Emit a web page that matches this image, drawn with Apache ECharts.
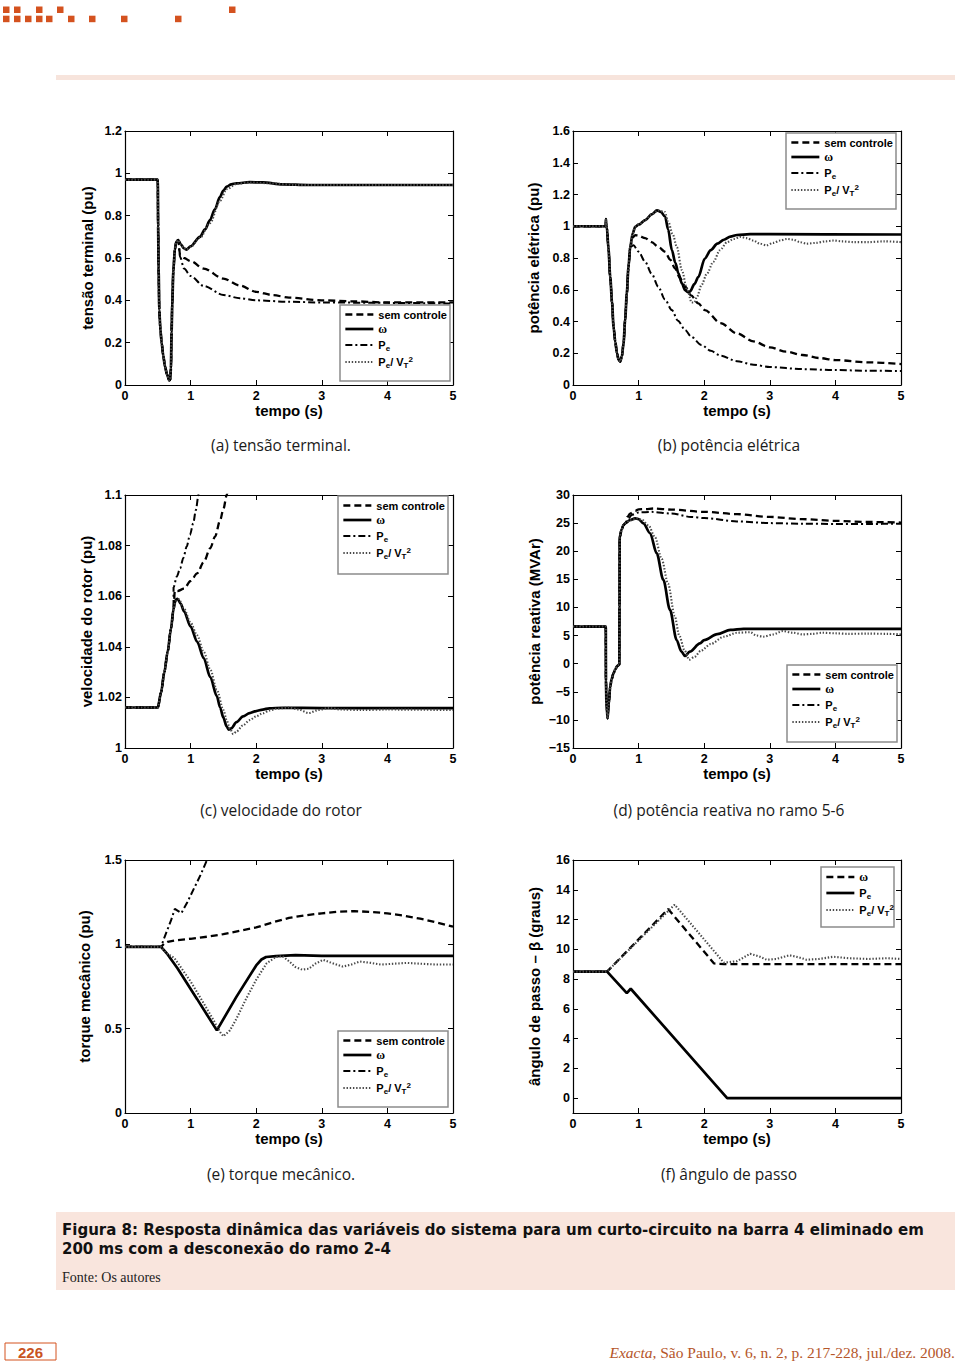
<!DOCTYPE html>
<html><head><meta charset="utf-8">
<script src="https://cdn.jsdelivr.net/npm/echarts@6/dist/echarts.min.js"></script>
<style>html,body{margin:0;padding:0;background:#fff}#c{width:960px;height:1361px}</style>
</head><body><div id="c"></div>
<script>
// ---------- data (t in s, value) ----------
const xTicks = [0,1,2,3,4,5];

// (a) tensão terminal (pu)
const aYTicks = [0,0.2,0.4,0.6,0.8,1,1.2];
const aFault = [[0,0.97],[0.5,0.97],[0.505,0.75],[0.512,0.55],[0.523,0.354],[0.54,0.26],[0.559,0.197],[0.585,0.135],[0.61,0.087],[0.64,0.05],[0.675,0.022],[0.69,0.025],[0.70,0.08],[0.71,0.25],[0.72,0.38],[0.737,0.54],[0.76,0.64],[0.78,0.675],[0.81,0.685]];
const aSem   = [[0.84,0.615],[0.9,0.60],[1.0,0.585],[1.2,0.55],[1.5,0.503],[1.75,0.47],[2.0,0.44],[2.25,0.425],[2.5,0.413],[3.0,0.40],[3.5,0.395],[4,0.39],[5,0.39]];
const aOmega = [[0.85,0.665],[0.9,0.645],[0.94,0.64],[1.0,0.655],[1.143,0.70],[1.22,0.735],[1.296,0.779],[1.37,0.83],[1.448,0.889],[1.5,0.918],[1.55,0.937],[1.62,0.948],[1.7,0.953],[1.9,0.958],[2.1,0.957],[2.4,0.948],[2.8,0.945],[5,0.945]];
const aPe    = [[0.84,0.605],[0.9,0.55],[1.0,0.515],[1.2,0.468],[1.5,0.425],[1.75,0.41],[2.0,0.40],[2.5,0.393],[3,0.39],[4,0.388],[5,0.385]];
const aPeVt  = [[0.85,0.665],[0.9,0.645],[0.94,0.64],[1.0,0.652],[1.143,0.695],[1.296,0.765],[1.448,0.87],[1.55,0.925],[1.7,0.95],[1.9,0.957],[2.2,0.953],[2.6,0.945],[5,0.945]];

// (b) potência elétrica (pu)
const bYTicks = [0,0.2,0.4,0.6,0.8,1,1.2,1.4,1.6];
const bFault = [[0,1.0],[0.5,1.0],[0.502,1.045],[0.508,1.0],[0.517,0.99],[0.54,0.86],[0.568,0.68],[0.595,0.52],[0.618,0.367],[0.645,0.27],[0.67,0.2],[0.695,0.16],[0.72,0.147],[0.745,0.18],[0.77,0.262],[0.795,0.41],[0.82,0.577],[0.845,0.74],[0.872,0.87]];
const bSem   = [[0.91,0.93],[0.948,0.944],[1.0,0.94],[1.1,0.925],[1.2,0.90],[1.3,0.87],[1.405,0.839],[1.48,0.79],[1.557,0.734],[1.63,0.675],[1.71,0.619],[1.8,0.565],[1.91,0.514],[2.01,0.472],[2.25,0.39],[2.5,0.325],[2.75,0.275],[3.0,0.237],[3.25,0.21],[3.5,0.189],[3.75,0.17],[4.0,0.157],[4.5,0.143],[5.0,0.132]];
const bOmega = [[0.91,0.955],[0.948,0.996],[1.0,1.01],[1.1,1.038],[1.2,1.075],[1.28,1.10],[1.34,1.09],[1.405,1.06],[1.45,0.98],[1.507,0.85],[1.56,0.77],[1.607,0.703],[1.66,0.64],[1.709,0.598],[1.75,0.585],[1.785,0.59],[1.85,0.635],[1.91,0.68],[2.01,0.797],[2.1,0.85],[2.2,0.89],[2.3,0.915],[2.4,0.935],[2.5,0.945],[2.7,0.95],[3,0.95],[5,0.948]];
const bPe    = [[0.92,0.88],[1.0,0.84],[1.1,0.776],[1.2,0.70],[1.3,0.619],[1.4,0.54],[1.507,0.472],[1.6,0.405],[1.71,0.346],[1.8,0.305],[1.96,0.252],[2.1,0.215],[2.25,0.185],[2.5,0.15],[2.75,0.128],[3.0,0.113],[3.5,0.1],[4.0,0.094],[4.5,0.09],[5.0,0.088]];
const bPeVt  = [[0.91,0.955],[0.948,0.996],[1.0,1.01],[1.1,1.04],[1.2,1.075],[1.3,1.10],[1.4,1.09],[1.45,1.03],[1.52,0.95],[1.583,0.87],[1.659,0.724],[1.735,0.61],[1.81,0.52],[1.85,0.52],[1.89,0.556],[1.96,0.63],[2.04,0.70],[2.14,0.776],[2.24,0.849],[2.35,0.90],[2.45,0.92],[2.55,0.933],[2.65,0.925],[2.75,0.91],[2.85,0.89],[2.95,0.88],[3.05,0.895],[3.16,0.91],[3.26,0.92],[3.36,0.915],[3.46,0.9],[3.56,0.89],[3.7,0.895],[3.85,0.905],[3.97,0.91],[4.1,0.905],[4.28,0.9],[4.5,0.9],[4.75,0.905],[5,0.9]];

// (c) velocidade do rotor (pu)
const cYTicks = [1,1.02,1.04,1.06,1.08,1.1];
const cFault = [[0,1.016],[0.5,1.016],[0.55,1.022],[0.6,1.03],[0.65,1.038],[0.7,1.047],[0.74,1.055]];
const cSem   = [[0.76,1.0622],[0.8,1.062],[0.9,1.063],[1.0,1.066],[1.1,1.069],[1.2,1.0735],[1.3,1.079],[1.373,1.0836],[1.45,1.09],[1.5,1.0945],[1.551,1.1],[1.57,1.102]];
const cOmega = [[0.77,1.0585],[0.8,1.059],[0.85,1.057],[0.9,1.054],[1.0,1.048],[1.1,1.042],[1.2,1.0355],[1.3,1.028],[1.4,1.0205],[1.45,1.016],[1.5,1.012],[1.55,1.0085],[1.58,1.0073],[1.62,1.0078],[1.7,1.0102],[1.8,1.0125],[1.9,1.0138],[2.0,1.0146],[2.1,1.0152],[2.2,1.0157],[2.4,1.0159],[3,1.0158],[5,1.0158]];
const cPe    = [[0.74,1.0635],[0.79,1.0678],[0.84,1.071],[0.89,1.0752],[0.94,1.0796],[0.99,1.0842],[1.04,1.0888],[1.08,1.094],[1.12,1.1],[1.14,1.103]];
const cPeVt  = [[0.77,1.058],[0.82,1.0588],[0.9,1.055],[1.0,1.0495],[1.1,1.0445],[1.2,1.038],[1.3,1.031],[1.4,1.023],[1.5,1.015],[1.55,1.011],[1.6,1.0075],[1.65,1.0055],[1.7,1.0065],[1.8,1.009],[1.9,1.011],[2.0,1.0125],[2.1,1.0137],[2.2,1.0148],[2.3,1.0155],[2.5,1.016],[2.65,1.0152],[2.8,1.0138],[2.95,1.015],[3.1,1.0158],[3.3,1.0152],[3.6,1.015],[4,1.0152],[5,1.015]];

// (d) potência reativa (MVAr)
const dYTicks = [-15,-10,-5,0,5,10,15,20,25,30];
const dFault = [[0,6.6],[0.5,6.6],[0.502,-3],[0.51,-7],[0.527,-9.72],[0.545,-7.2],[0.567,-4.1],[0.59,-2.7],[0.617,-1.72],[0.645,-1.0],[0.668,-0.54],[0.693,-0.24],[0.706,-0.2],[0.709,10],[0.712,22.5],[0.74,23.8],[0.77,24.66],[0.8,25.0]];
const dSem   = [[0.83,26.1],[0.87,26.7],[0.95,27.2],[1.0,27.45],[1.1,27.5],[1.23,27.6],[1.5,27.4],[2.0,27.0],[2.5,26.6],[3.0,26.1],[3.5,25.7],[4.0,25.4],[4.5,25.2],[5.0,25.1]];
const dOmega = [[0.87,25.55],[0.947,25.85],[1.0,25.7],[1.073,24.96],[1.175,23.2],[1.277,19.6],[1.377,14.9],[1.479,9.55],[1.58,4.2],[1.65,2.2],[1.707,1.36],[1.78,2.13],[1.935,3.6],[2.0,4.2],[2.2,5.25],[2.4,6.0],[2.6,6.2],[3,6.2],[5,6.2]];
const dPe    = [[0.83,25.6],[0.9,26.5],[1.0,26.9],[1.2,27.0],[1.5,26.7],[1.8,26.1],[2.0,25.9],[2.5,25.3],[3.0,25.0],[3.5,24.9],[4.0,24.85],[4.5,24.85],[5.0,24.9]];
const dPeVt  = [[0.87,25.5],[0.97,25.8],[1.05,25.6],[1.15,24.6],[1.25,22.5],[1.35,18.7],[1.45,14.2],[1.55,8.5],[1.62,5.0],[1.7,2.4],[1.77,0.7],[1.85,1.2],[1.95,2.3],[2.1,3.5],[2.3,4.8],[2.5,5.5],[2.7,5.6],[2.8,5.0],[2.9,4.8],[3.05,5.2],[3.2,5.8],[3.35,5.5],[3.5,5.2],[3.65,5.3],[3.8,5.5],[4.0,5.4],[4.2,5.3],[4.5,5.35],[4.8,5.3],[5,5.2]];

// (e) torque mecânico (pu)
const eYTicks = [0,0.5,1,1.5];
const eFault = [[0,0.985],[0.55,0.985]];
const eSem   = [[0.6,1.005],[0.65,1.015],[0.8,1.025],[1.0,1.033],[1.25,1.045],[1.5,1.06],[1.75,1.08],[2.0,1.1],[2.25,1.13],[2.5,1.157],[2.75,1.172],[3.0,1.184],[3.25,1.193],[3.5,1.197],[3.75,1.192],[4.0,1.184],[4.25,1.17],[4.5,1.152],[4.75,1.13],[5.0,1.105]];
const eOmega = [[0.65,0.94],[0.8,0.858],[1.1,0.675],[1.4,0.49],[1.7,0.69],[2.0,0.875],[2.08,0.91],[2.15,0.925],[2.3,0.93],[2.6,0.936],[3,0.932],[5,0.931]];
const ePe    = [[0.6,1.04],[0.65,1.09],[0.7,1.14],[0.76,1.21],[0.8,1.2],[0.86,1.185],[0.95,1.25],[1.05,1.33],[1.15,1.41],[1.25,1.5],[1.27,1.52]];
const ePeVt  = [[0.62,0.95],[0.75,0.92],[1.0,0.78],[1.2,0.65],[1.35,0.55],[1.45,0.48],[1.5,0.455],[1.6,0.49],[1.7,0.56],[1.85,0.68],[2.0,0.79],[2.16,0.888],[2.3,0.925],[2.4,0.93],[2.5,0.9],[2.6,0.865],[2.7,0.85],[2.8,0.855],[2.9,0.885],[3.02,0.908],[3.15,0.89],[3.32,0.868],[3.45,0.88],[3.58,0.898],[3.75,0.89],[3.9,0.88],[4.1,0.885],[4.3,0.89],[4.5,0.885],[4.75,0.88],[5,0.88]];

// (f) ângulo de passo (graus)
const fYTicks = [0,2,4,6,8,10,12,14,16];
const fFault = [[0,8.5],[0.52,8.5]];
const fOmega = [[1.45,12.7],[2.15,9.05],[2.3,9.0],[5,9.0]];
const fPe    = [[0.82,7.05],[0.88,7.35],[2.35,0],[5,0]];
const fPeVt  = [[1.55,13.0],[2.3,9.1],[2.5,9.2],[2.7,9.7],[2.85,9.5],[2.95,9.3],[3.1,9.35],[3.3,9.6],[3.45,9.45],[3.56,9.3],[3.75,9.35],[3.97,9.5],[4.2,9.4],[4.5,9.35],[4.8,9.4],[5,9.35]];

// ---------- styles ----------
const F = 'Liberation Sans, Arial, Helvetica, sans-serif';
const G = '"Open Sans", Lato, sans-serif';
const STY = {
  dash:    {color:'#000', width:2.3, type:[7,4]},
  solid:   {color:'#000', width:2.7, type:'solid'},
  dashdot: {color:'#000', width:2.0, type:[7,3,2,3]},
  dot:     {color:'#4a4a4a', width:2.1, type:[1.4,1.8]}
};
const LBL = {
  sem: '{b|sem controle}',
  w:   '{w|ω}',
  pe:  '{b|P}{sub|e}',
  pv:  '{b|P}{sub|e}{b|/ V}{sub|T}{sup|2}'
};
const RICH = {
  b:   {fontFamily:F, fontWeight:'bold', fontSize:11, lineHeight:13, color:'#000'},
  w:   {fontFamily:'Liberation Serif, serif', fontSize:12, lineHeight:13, color:'#000'},
  sub: {fontFamily:F, fontWeight:'bold', fontSize:8, lineHeight:8, color:'#000', padding:[6,0,0,0]},
  sup: {fontFamily:F, fontWeight:'bold', fontSize:8, lineHeight:8, color:'#000', padding:[0,0,6,0]}
};

const plots = [
  {grid:[125,131,328,254], y:[0,1.2,0.2], yt:aYTicks, yName:'tensão terminal (pu)', gap:30, smooth:true,
   series:[['sem','dash',aFault.concat(aSem)],['w','solid',aFault.concat(aOmega)],['pe','dashdot',aFault.concat(aPe)],['pv','dot',aFault.concat(aPeVt)]],
   box:[340,305,110,76], cap:['(a) tensão terminal.',281,445]},
  {grid:[573,131,328,254], y:[0,1.6,0.2], yt:bYTicks, yName:'potência elétrica (pu)', gap:32, smooth:true,
   series:[['sem','dash',bFault.concat(bSem)],['w','solid',bFault.concat(bOmega)],['pe','dashdot',bFault.concat(bPe)],['pv','dot',bFault.concat(bPeVt)]],
   box:[786,133,110,76], cap:['(b) potência elétrica',729,445]},
  {grid:[125,495,328,253], y:[1,1.1,0.02], yt:cYTicks, yName:'velocidade do rotor (pu)', gap:31, smooth:true,
   series:[['sem','dash',cFault.concat(cSem)],['w','solid',cFault.concat(cOmega)],['pe','dashdot',cFault.concat(cPe)],['pv','dot',cFault.concat(cPeVt)]],
   box:[338,496,110,78], cap:['(c) velocidade do rotor',281,810]},
  {grid:[573,495,328,253], y:[-15,30,5], yt:dYTicks, yName:'potência reativa (MVAr)', gap:31, smooth:true,
   series:[['sem','dash',dFault.concat(dSem)],['w','solid',dFault.concat(dOmega)],['pe','dashdot',dFault.concat(dPe)],['pv','dot',dFault.concat(dPeVt)]],
   box:[787,665,110,77], cap:['(d) potência reativa no ramo 5-6',729,810]},
  {grid:[125,860,328,253], y:[0,1.5,0.5], yt:eYTicks, yName:'torque mecânico (pu)', gap:33, smooth:false,
   series:[['sem','dash',eFault.concat(eSem)],['w','solid',eFault.concat(eOmega)],['pe','dashdot',eFault.concat(ePe)],['pv','dot',eFault.concat(ePeVt)]],
   box:[338,1031,110,76], cap:['(e) torque mecânico.',281,1174]},
  {grid:[573,860,328,253], y:[-1,16,null], yt:fYTicks, yName:'ângulo de passo – β (graus)', gap:31, smooth:false,
   series:[['w','dash',fFault.concat(fOmega)],['pe','solid',fFault.concat(fPe)],['pv','dot',fFault.concat(fPeVt)]],
   box:[821,867,73,60], cap:['(f) ângulo de passo',729,1174]}
];

const fmtNum = v => (v < 0 ? '\u2212' + Math.abs(v) : String(+v.toFixed(4)));

const grid=[], xAxis=[], yAxis=[], series=[], legend=[], graphic=[];
const lineCommon = {color:'#000', width:1.2};
plots.forEach((p, gi) => {
  grid.push({left:p.grid[0], top:p.grid[1], width:p.grid[2], height:p.grid[3], containLabel:false});
  const base = {gridIndex:gi, type:'value', splitLine:{show:false},
    axisLine:{show:true, onZero:false, lineStyle:lineCommon},
    axisTick:{show:true, inside:true, length:5, lineStyle:{color:'#000', width:1}}};
  const xa = {min:xTicks[0], max:xTicks[xTicks.length-1], interval:1};
  xAxis.push(Object.assign({}, base, xa, {position:'bottom',
    axisLabel:{color:'#000', fontFamily:F, fontWeight:'bold', fontSize:12.5, margin:4},
    name:'tempo (s)', nameLocation:'middle', nameGap:18,
    nameTextStyle:{color:'#000', fontFamily:F, fontWeight:'bold', fontSize:15}}));
  xAxis.push(Object.assign({}, base, xa, {position:'top', axisLabel:{show:false}}));
  const ya = {min:p.y[0], max:p.y[1]};
  if (p.y[2] != null) ya.interval = p.y[2];
  const lab = {color:'#000', fontFamily:F, fontWeight:'bold', fontSize:12.5, margin:3, formatter:fmtNum};
  const tick = JSON.parse(JSON.stringify(base.axisTick));
  if (p.y[2] == null) { lab.customValues = p.yt; tick.customValues = p.yt; }
  yAxis.push(Object.assign({}, base, ya, {position:'left', axisLabel:lab, axisTick:tick,
    name:p.yName, nameLocation:'middle', nameGap:p.gap,
    nameTextStyle:{color:'#000', fontFamily:F, fontWeight:'bold', fontSize:15}}));
  yAxis.push(Object.assign({}, base, ya, {position:'right', axisLabel:{show:false},
    axisTick:JSON.parse(JSON.stringify(tick))}));
  const names = [];
  p.series.forEach(([k, s, data]) => {
    const name = gi + '_' + k;
    names.push({name, lineStyle:STY[s], itemStyle:{opacity:0}});
    series.push({type:'line', name, xAxisIndex:2*gi, yAxisIndex:2*gi, data,
      symbol:'none', showSymbol:false, lineStyle:STY[s], color:STY[s].color,
      smooth:p.smooth ? 0.3 : false, smoothMonotone:'x', clip:true, animation:false,
      emphasis:{disabled:true}});
  });
  legend.push({orient:'vertical', left:p.box[0]+4, top:p.box[1]+4, padding:0,
    itemWidth:28, itemHeight:10, itemGap:3, selectedMode:false, z:6,
    data:names, formatter:n => LBL[n.split('_')[1]],
    textStyle:{fontFamily:F, fontWeight:'bold', fontSize:11, color:'#000', rich:RICH}});
  graphic.push({type:'rect', z:5, shape:{x:p.box[0], y:p.box[1], width:p.box[2], height:p.box[3]},
    style:{fill:'#fff', stroke:'#8c8c8c', lineWidth:1.5}});
  graphic.push({type:'text', z:5, style:{text:p.cap[0], x:p.cap[1], y:p.cap[2], align:'center', verticalAlign:'middle',
    fontFamily:G, fontSize:15.5, fill:'#1a1a1a'}});
});

// page decorations
const squares = [[3,6.5],[14,6.5],[36,6.5],[57,6.5],[229,6.5],[3,15.7],[14,15.7],[25,15.7],[36,15.7],[46,15.7],[68,15.7],[89,15.7],[121,15.7],[175,15.7]];
squares.forEach(([x,y]) => graphic.push({type:'rect', shape:{x, y, width:6.5, height:6.5}, style:{fill:'#d4521f'}}));
graphic.push({type:'rect', shape:{x:56, y:75, width:899, height:5}, style:{fill:'#f7e4dc'}});
graphic.push({type:'rect', shape:{x:56, y:1212, width:899, height:78}, style:{fill:'#f9e5dd'}});
const capLines = ['Figura 8: Resposta dinâmica das variáveis do sistema para um curto-circuito na barra 4 eliminado em',
                  '200 ms com a desconexão do ramo 2-4'];
capLines.forEach((t, i) => graphic.push({type:'text', style:{text:t, x:62, y:1229.5 + i*19, align:'left', verticalAlign:'middle',
  fontFamily:'"DejaVu Sans", sans-serif', fontWeight:'bold', fontSize:15, fill:'#111'}}));
graphic.push({type:'text', style:{text:'Fonte: Os autores', x:62, y:1277, align:'left', verticalAlign:'middle',
  fontFamily:'Liberation Serif, serif', fontSize:14, fill:'#222'}});
graphic.push({type:'rect', shape:{x:5, y:1343, width:51, height:17}, style:{fill:'#fff', stroke:'#d4521f', lineWidth:1}});
graphic.push({type:'text', style:{text:'226', x:30.5, y:1352, align:'center', verticalAlign:'middle',
  fontFamily:F, fontWeight:'bold', fontSize:15, fill:'#c9531f'}});
graphic.push({type:'text', style:{text:'{i|Exacta}{n|, São Paulo, v. 6, n. 2, p. 217-228, jul./dez. 2008.}', x:955, y:1352, align:'right', verticalAlign:'middle',
  rich:{i:{fontFamily:'Liberation Serif, serif', fontStyle:'italic', fontSize:15.5, fill:'#b5562a', color:'#b5562a'},
        n:{fontFamily:'Liberation Serif, serif', fontSize:15.5, fill:'#b5562a', color:'#b5562a'}}}});

const chart = echarts.init(document.getElementById('c'), null, {renderer:'svg', width:960, height:1361});
chart.setOption({backgroundColor:'#fff', animation:false, grid, xAxis, yAxis, series, legend, graphic});
</script>
</body></html>
